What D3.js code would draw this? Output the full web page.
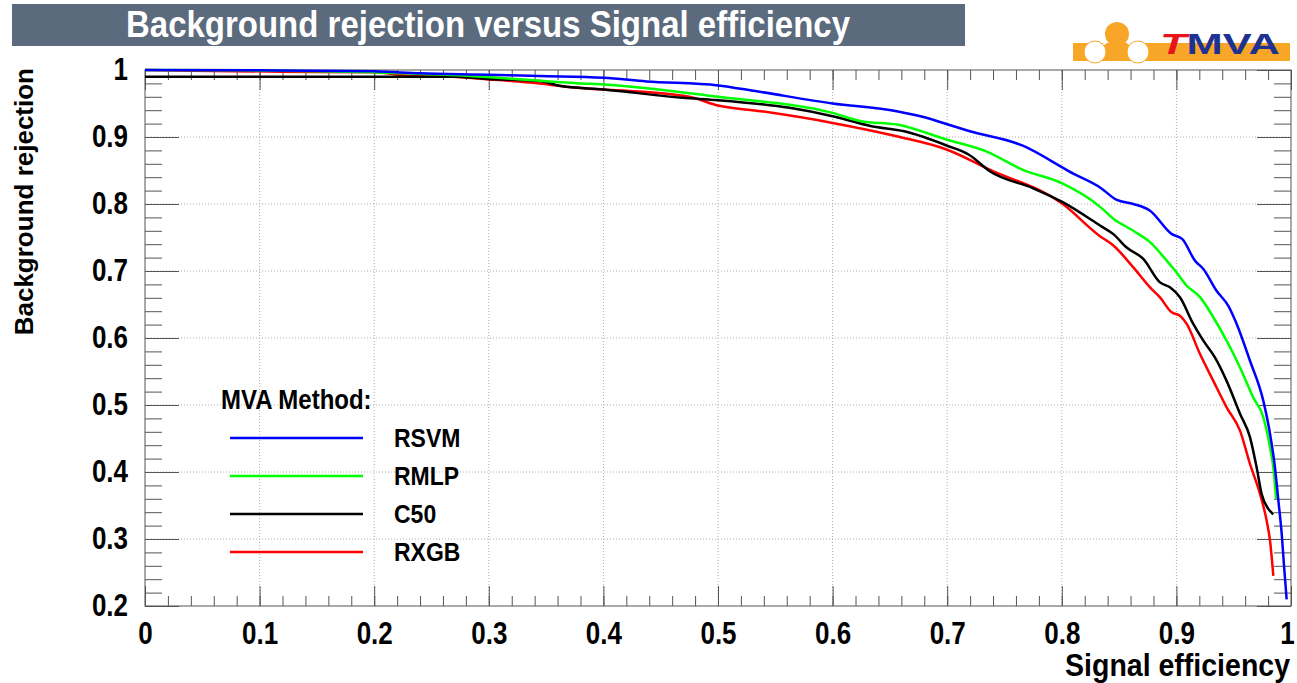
<!DOCTYPE html>
<html>
<head>
<meta charset="utf-8">
<script src="https://cdn.jsdelivr.net/npm/d3@7"></script>
<style>
  body { margin: 0; background: #fff; }
  svg text { font-family: "Liberation Sans", Arial, Helvetica, sans-serif; font-weight: bold; }
</style>
</head>
<body>
<svg id="chart" width="1297" height="683"></svg>
<script>
// ROC curves: [signal efficiency, background rejection]
var methods = ['RSVM', 'RMLP', 'C50', 'RXGB'];
var colors = ['#0000ff', '#00ff00', '#000000', '#ff0000'];

var rsvm = [[0,1.0],[0.1,0.9995],[0.2,0.998],[0.24,0.995],[0.3,0.993],[0.344,0.991],[0.4,0.9885],
  [0.4375,0.983],[0.5,0.977],[0.531,0.969],[0.6,0.95],[0.656,0.9385],[0.681,0.929],[0.7,0.919],
  [0.719,0.909],[0.766,0.887],[0.8,0.855],[0.806,0.849],[0.834,0.824],[0.848,0.806],[0.8624,0.8],
  [0.877,0.79],[0.896,0.755],[0.905,0.748],[0.9162,0.7155],[0.9235,0.703],[0.935,0.6705],
  [0.9453,0.648],[0.9526,0.621],[0.9642,0.566],[0.9758,0.5065],[0.9817,0.457],[0.986,0.407],
  [0.989,0.357],[0.9919,0.3075],[0.994,0.258],[0.9962,0.21]];

var rmlp = [[0,1.0],[0.09,0.9995],[0.2,0.9965],[0.28,0.9915],[0.336,0.985],[0.38,0.98],[0.4,0.9785],
  [0.5,0.96],[0.6,0.936],[0.625,0.9235],[0.656,0.9185],[0.7,0.896],[0.734,0.8785],[0.766,0.851],
  [0.8,0.831],[0.834,0.795],[0.845,0.778],[0.8624,0.76],[0.877,0.743],[0.8915,0.7155],[0.9,0.698],
  [0.909,0.678],[0.9206,0.661],[0.9322,0.631],[0.9438,0.596],[0.9555,0.556],[0.9671,0.511],
  [0.9758,0.482],[0.9817,0.437],[0.9846,0.407],[0.987,0.36]];

var c50 = [[0,0.99],[0.27,0.99],[0.3,0.9866],[0.344,0.9835],[0.363,0.976],[0.4,0.971],[0.469,0.9585],
  [0.5,0.955],[0.5625,0.9435],[0.6,0.931],[0.634,0.916],[0.6625,0.9085],[0.7,0.887],[0.719,0.8735],
  [0.7375,0.8485],[0.775,0.8235],[0.8,0.8035],[0.8333,0.768],[0.845,0.755],[0.8566,0.735],
  [0.8711,0.718],[0.8857,0.683],[0.8944,0.6756],[0.9031,0.6607],[0.9147,0.621],[0.9235,0.596],
  [0.9336,0.571],[0.9438,0.536],[0.9555,0.487],[0.9642,0.452],[0.97,0.407],[0.9744,0.367],
  [0.9802,0.345],[0.9846,0.337]];

var rxgb = [[0,1.0],[0.04,0.999],[0.12,0.9975],[0.2,0.9965],[0.23,0.9915],[0.26,0.9905],[0.3,0.986],
  [0.344,0.98],[0.38,0.973],[0.4,0.971],[0.475,0.96],[0.5,0.947],[0.5375,0.9385],[0.6,0.921],
  [0.656,0.901],[0.7,0.881],[0.7375,0.851],[0.8,0.801],[0.8333,0.752],[0.845,0.738],[0.8624,0.7055],
  [0.877,0.6756],[0.8857,0.6607],[0.8958,0.6383],[0.9031,0.6333],[0.909,0.621],[0.9206,0.576],
  [0.9322,0.536],[0.9438,0.4965],[0.9555,0.4617],[0.9642,0.412],[0.973,0.367],[0.9788,0.327],
  [0.9817,0.2975],[0.9846,0.245]];

var series = [rsvm, rmlp, c50, rxgb];

var xTicks = [0, 0.1, 0.2, 0.3, 0.4, 0.5, 0.6, 0.7, 0.8, 0.9, 1];
var yTicks = [0.2, 0.3, 0.4, 0.5, 0.6, 0.7, 0.8, 0.9, 1];

var svg = d3.select('#chart');
var x = d3.scaleLinear().domain([0, 1]).range([145, 1291]);
var y = d3.scaleLinear().domain([0.2, 1]).range([606, 70]);
var fmt = d3.format('.1~f');

// the picture is a bit squashed sideways, so text gets stretched upward around its anchor
function stretch(sel, k) {
  sel.each(function() {
    var t = d3.select(this);
    var tx = +(t.attr('x') || 0), ty = +(t.attr('y') || 0);
    t.attr('transform', 'translate(' + tx + ',' + ty + ') scale(1,' + k + ') translate(' + (-tx) + ',' + (-ty) + ')');
  });
}

// title box
svg.append('rect')
    .attr('x', 12).attr('y', 4).attr('width', 953).attr('height', 42)
    .attr('fill', '#5b6a7c');
svg.append('text')
    .attr('x', 488).attr('y', 37)
    .attr('text-anchor', 'middle')
    .attr('fill', '#fff')
    .attr('font-size', 33)
    .text('Background rejection versus Signal efficiency')
    .call(stretch, 1.12);

// TMVA logo
var logo = svg.append('g');
logo.append('rect').attr('x', 1073).attr('y', 43).attr('width', 217).attr('height', 18).attr('fill', '#f8a628');
logo.append('line').attr('x1', 1095).attr('y1', 51).attr('x2', 1117).attr('y2', 34).attr('stroke', '#fff').attr('stroke-width', 2);
logo.append('line').attr('x1', 1138).attr('y1', 51).attr('x2', 1117).attr('y2', 34).attr('stroke', '#fff').attr('stroke-width', 2);
logo.append('circle').attr('cx', 1117).attr('cy', 34).attr('r', 12).attr('fill', '#f8a628');
logo.append('circle').attr('cx', 1095).attr('cy', 52).attr('r', 11).attr('fill', '#fff').attr('stroke', '#f8a628');
logo.append('circle').attr('cx', 1138).attr('cy', 52).attr('r', 11).attr('fill', '#fff').attr('stroke', '#f8a628');
var logoText = logo.append('text').attr('x', 1160).attr('y', 54).attr('font-size', 30)
    .attr('textLength', 120).attr('lengthAdjust', 'spacingAndGlyphs');
logoText.append('tspan').attr('fill', '#e8141c').attr('font-style', 'italic').text('T');
logoText.append('tspan').attr('fill', '#1f3291').text('MVA');

// grid
var grid = svg.append('g').attr('stroke', '#b0b0b0').attr('stroke-dasharray', '1,2');
grid.selectAll('.gx').data(xTicks.slice(1, -1)).enter().append('line')
    .attr('x1', function(d) { return x(d); }).attr('x2', function(d) { return x(d); })
    .attr('y1', y(0.2)).attr('y2', y(1));
grid.selectAll('.gy').data(yTicks.slice(1, -1)).enter().append('line')
    .attr('y1', function(d) { return y(d); }).attr('y2', function(d) { return y(d); })
    .attr('x1', x(0)).attr('x2', x(1));

// axes, ticks pointing inward on all four sides
var xMinor = d3.range(0, 51).map(function(i) { return i / 50; });
var yMinor = d3.range(10, 51).map(function(i) { return i / 50; });

function addAxis(axis, tx, ty, cls) {
  var g = svg.append('g').attr('class', cls).attr('transform', 'translate(' + tx + ',' + ty + ')').call(axis);
  g.select('.domain').remove();
  g.selectAll('line').attr('stroke', '#555');
  g.selectAll('text').attr('fill', '#000').attr('font-size', 26)
      .attr('font-family', '"Liberation Sans", Arial, sans-serif').attr('font-weight', 'bold');
  return g;
}

addAxis(d3.axisBottom(x).tickValues(xMinor).tickSize(-10).tickFormat(''), 0, y(0.2), 'xminor');
var xAx = addAxis(d3.axisBottom(x).tickValues(xTicks).tickSize(-20).tickPadding(16).tickFormat(fmt), 0, y(0.2), 'xmajor');
xAx.selectAll('text').call(stretch, 1.2);
xAx.selectAll('text').filter(function(d) { return d === 1; }).attr('dx', -4);
addAxis(d3.axisTop(x).tickValues(xMinor).tickSize(-10).tickFormat(''), 0, y(1), 'xtopminor');
addAxis(d3.axisTop(x).tickValues(xTicks).tickSize(-20).tickFormat(''), 0, y(1), 'xtop');
addAxis(d3.axisLeft(y).tickValues(yMinor).tickSize(-17).tickFormat(''), x(0), 0, 'yminor');
var yAx = addAxis(d3.axisLeft(y).tickValues(yTicks).tickSize(-34).tickPadding(17).tickFormat(fmt), x(0), 0, 'ymajor');
yAx.selectAll('text').call(stretch, 1.2);
addAxis(d3.axisRight(y).tickValues(yMinor).tickSize(-17).tickFormat(''), x(1), 0, 'yrminor');
addAxis(d3.axisRight(y).tickValues(yTicks).tickSize(-34).tickFormat(''), x(1), 0, 'yright');

// frame
svg.append('rect')
    .attr('x', x(0)).attr('y', y(1)).attr('width', x(1) - x(0)).attr('height', y(0.2) - y(1))
    .attr('fill', 'none').attr('stroke', '#555').attr('stroke-width', 1);

// curves, blue drawn last so it sits on top
var line = d3.line()
    .x(function(d) { return x(d[0]); })
    .y(function(d) { return y(d[1]); })
    .curve(d3.curveMonotoneX);

var order = [3, 2, 1, 0];
svg.append('g').selectAll('path').data(order).enter().append('path')
    .attr('d', function(i) { return line(series[i]); })
    .attr('fill', 'none')
    .attr('stroke', function(i) { return colors[i]; })
    .attr('stroke-width', 2.5)
    .attr('stroke-linejoin', 'round');

// axis titles
svg.append('text')
    .attr('x', 1290).attr('y', 676)
    .attr('text-anchor', 'end').attr('font-size', 28.5)
    .text('Signal efficiency')
    .call(stretch, 1.08);
svg.append('text')
    .attr('transform', 'translate(33,68) rotate(-90)')
    .attr('text-anchor', 'end').attr('font-size', 26)
    .text('Background rejection');

// legend
var legend = svg.append('g');
legend.append('text').attr('x', 221).attr('y', 409).attr('font-size', 24).text('MVA Method:')
    .call(stretch, 1.15);
var rows = legend.selectAll('.row').data(methods).enter().append('g')
    .attr('transform', function(d, i) { return 'translate(0,' + (438 + i * 38) + ')'; });
rows.append('line').attr('x1', 230).attr('x2', 363).attr('y1', 0).attr('y2', 0)
    .attr('stroke', function(d, i) { return colors[i]; }).attr('stroke-width', 2.5);
rows.append('text').attr('x', 394).attr('y', 9).attr('font-size', 23)
    .text(function(d) { return d; })
    .call(stretch, 1.15);
</script>
</body>
</html>
